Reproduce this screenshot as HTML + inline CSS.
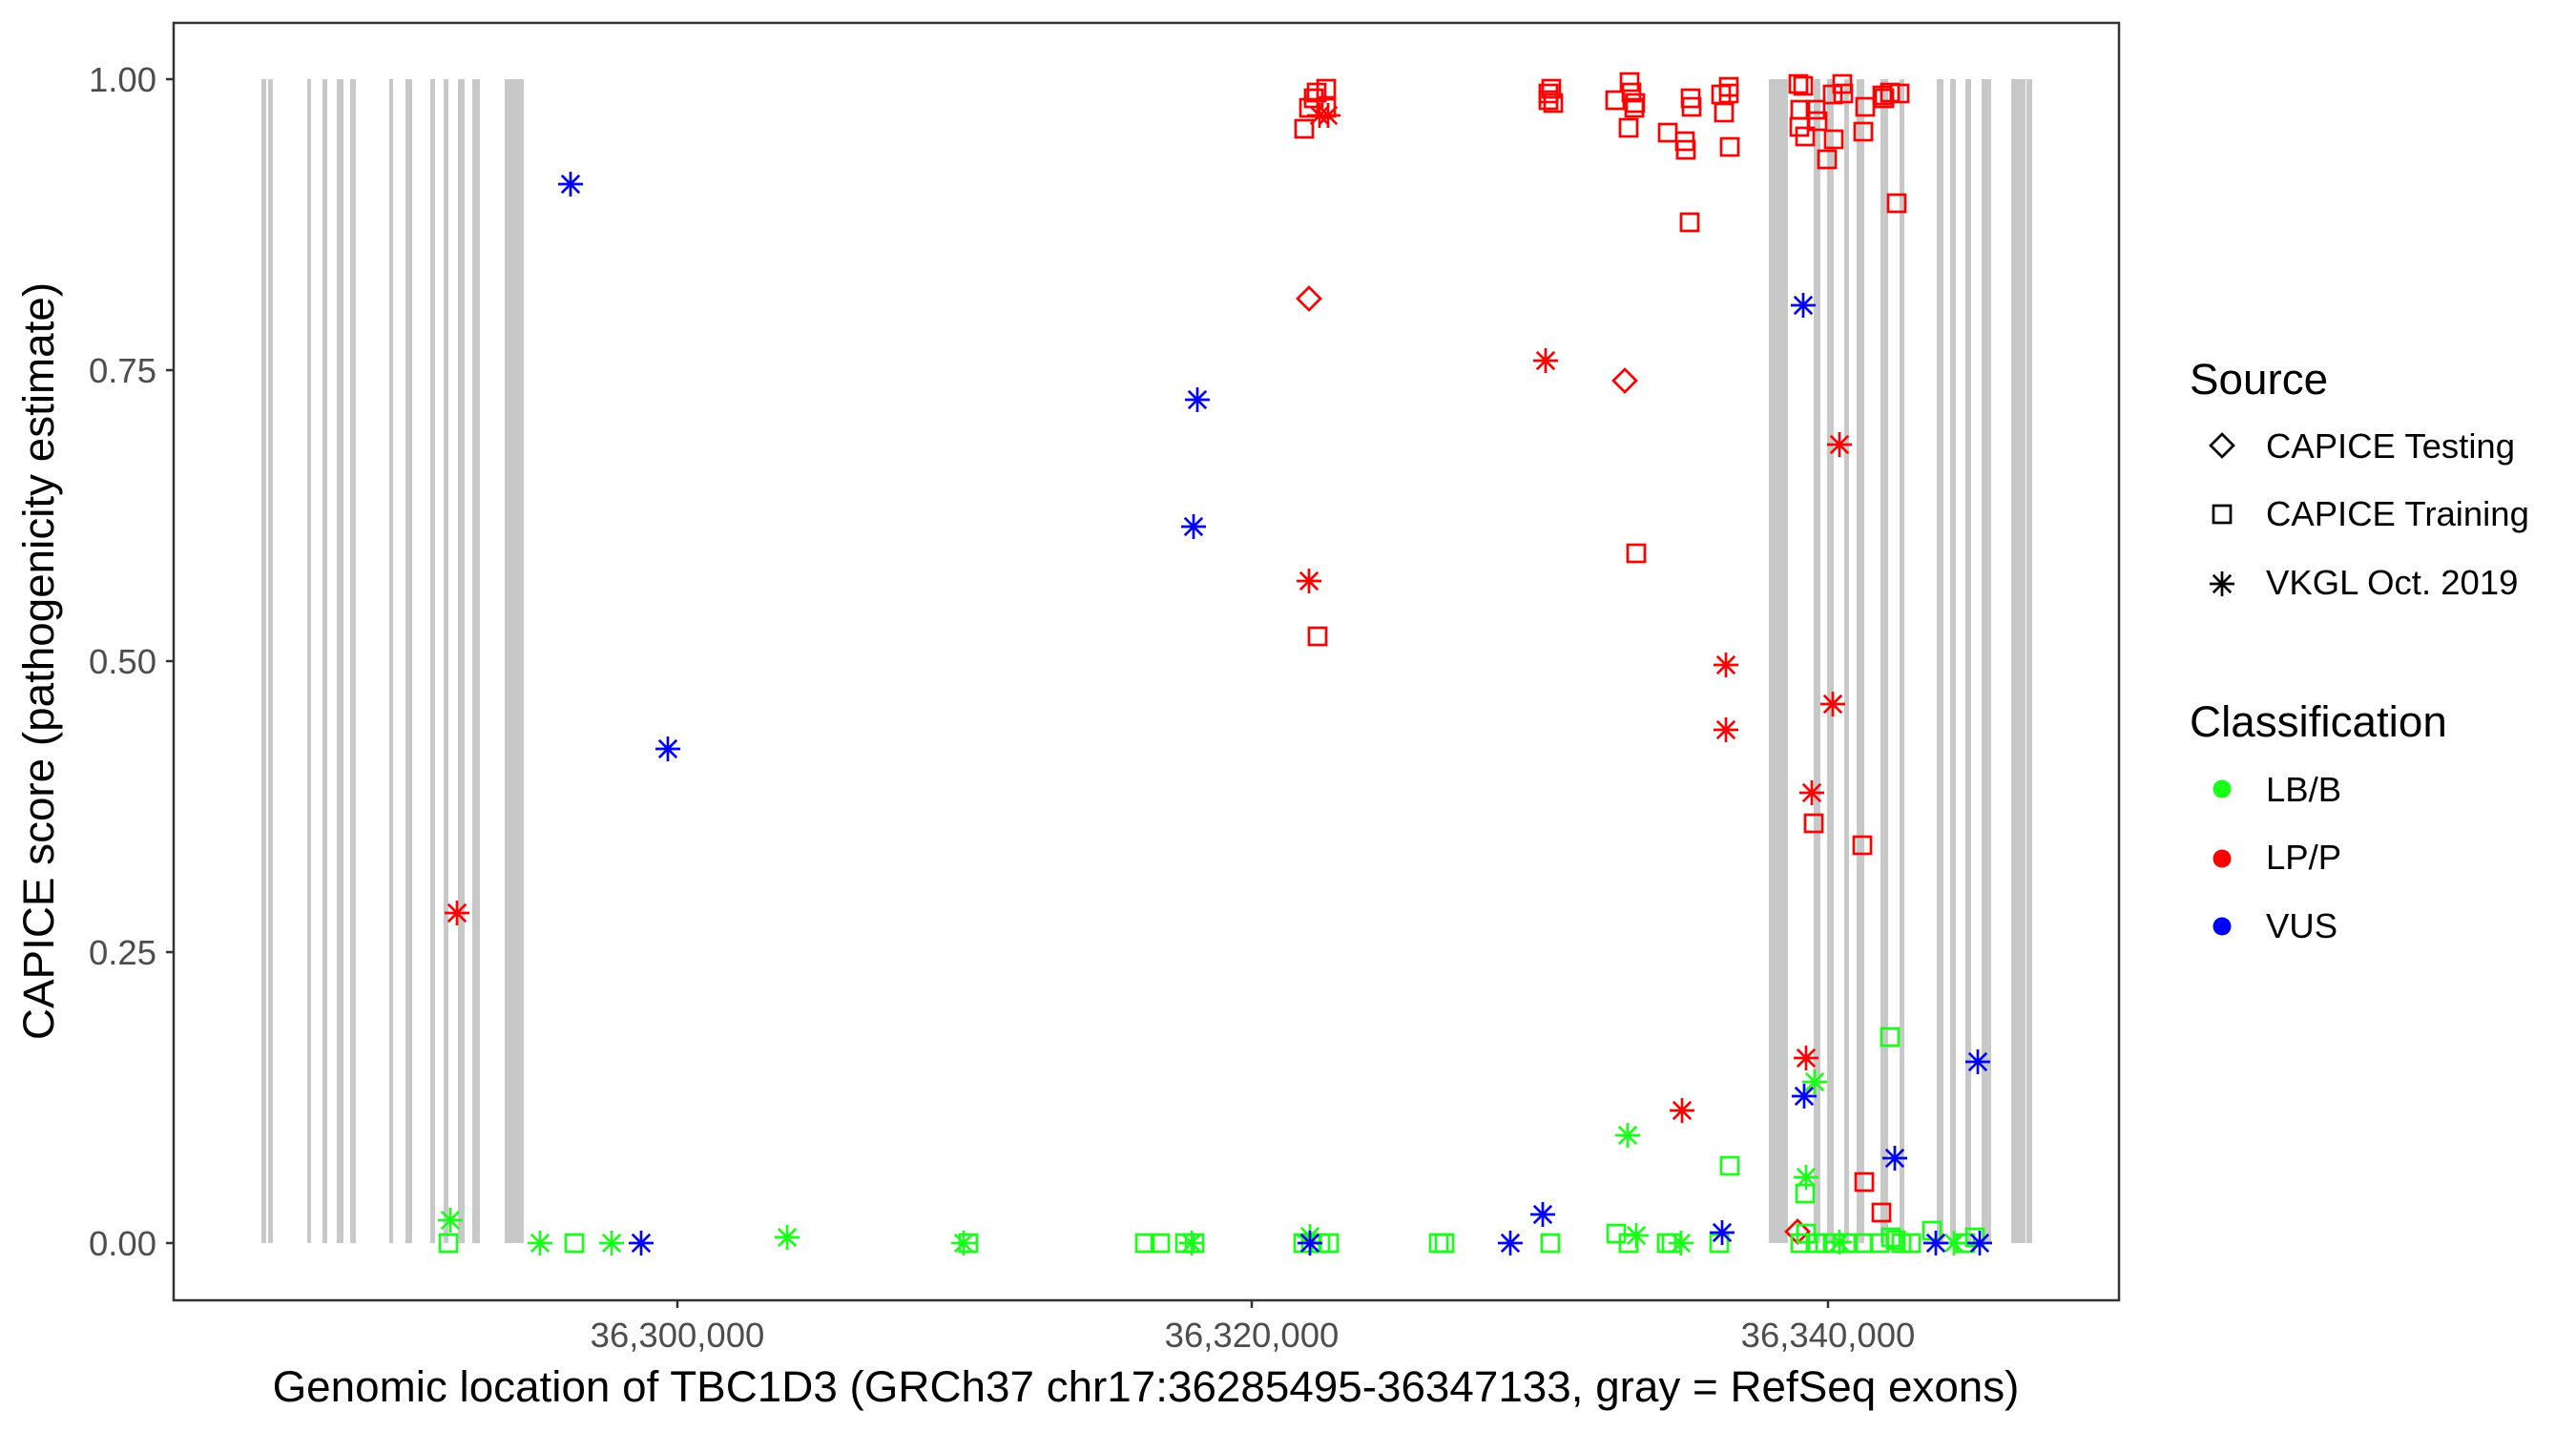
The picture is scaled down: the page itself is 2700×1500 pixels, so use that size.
<!DOCTYPE html>
<html><head><meta charset="utf-8"><style>
html,body{margin:0;padding:0;background:#fff;}
svg{display:block;font-family:"Liberation Sans",Arial,sans-serif;}
</style></head><body>
<svg width="2700" height="1500" viewBox="0 0 2700 1500" xmlns="http://www.w3.org/2000/svg">
<defs>
<rect id="sq" x="-9" y="-9" width="18" height="18" fill="none" stroke-width="2.7"/>
<polygon id="dm" points="0,-12 12,0 0,12 -12,0" fill="none" stroke-width="2.7"/>
<g id="as" stroke-width="2.7" fill="none"><line x1="0" y1="-13" x2="0" y2="13"/><line x1="-13" y1="0" x2="13" y2="0"/><line x1="-9.2" y1="-9.2" x2="9.2" y2="9.2"/><line x1="-9.2" y1="9.2" x2="9.2" y2="-9.2"/></g>
</defs>
<rect width="2700" height="1500" fill="#fff"/>
<!-- exons -->
<g fill="#c8c8c8">
<rect x="274" y="83" width="5" height="1220"/><rect x="281" y="83" width="5" height="1220"/>
<rect x="322" y="83" width="4" height="1220"/><rect x="338" y="83" width="5" height="1220"/>
<rect x="353" y="83" width="7" height="1220"/><rect x="367" y="83" width="6" height="1220"/>
<rect x="408" y="83" width="4" height="1220"/><rect x="425" y="83" width="7" height="1220"/>
<rect x="451" y="83" width="5" height="1220"/><rect x="465" y="83" width="5" height="1220"/>
<rect x="480" y="83" width="7" height="1220"/><rect x="495" y="83" width="8" height="1220"/>
<rect x="529" y="83" width="20" height="1220"/>
<rect x="1854" y="83" width="20" height="1220"/><rect x="1901" y="83" width="7" height="1220"/>
<rect x="1915" y="83" width="7" height="1220"/><rect x="1933" y="83" width="5" height="1220"/>
<rect x="1946" y="83" width="8" height="1220"/><rect x="1971" y="83" width="8" height="1220"/>
<rect x="1991" y="83" width="5" height="1220"/><rect x="2030" y="83" width="7" height="1220"/>
<rect x="2044" y="83" width="6" height="1220"/><rect x="2060" y="83" width="6" height="1220"/>
<rect x="2077" y="83" width="10" height="1220"/><rect x="2108" y="83" width="15" height="1220"/>
<rect x="2124" y="83" width="6" height="1220"/>
</g>
<!-- red squares -->
<g stroke="#ff0000">
<use href="#sq" x="1390" y="93"/><use href="#sq" x="1380" y="97"/><use href="#sq" x="1377" y="103"/><use href="#sq" x="1372" y="113"/><use href="#sq" x="1390" y="113"/><use href="#sq" x="1367" y="135"/><use href="#sq" x="1381" y="667"/>
<use href="#sq" x="1626" y="93"/><use href="#sq" x="1623" y="98"/><use href="#sq" x="1623" y="105"/><use href="#sq" x="1628" y="108"/><use href="#sq" x="1693" y="105"/><use href="#sq" x="1708" y="86"/><use href="#sq" x="1710" y="97"/><use href="#sq" x="1714" y="108"/><use href="#sq" x="1713" y="113"/><use href="#sq" x="1707" y="134"/><use href="#sq" x="1748" y="139"/><use href="#sq" x="1766" y="148"/><use href="#sq" x="1767" y="157"/><use href="#sq" x="1772" y="103"/><use href="#sq" x="1773" y="112"/><use href="#sq" x="1812" y="91"/><use href="#sq" x="1812" y="98"/><use href="#sq" x="1804" y="99"/><use href="#sq" x="1807" y="118"/><use href="#sq" x="1813" y="154"/><use href="#sq" x="1771" y="233"/>
<use href="#sq" x="1885" y="88"/><use href="#sq" x="1890" y="90"/><use href="#sq" x="1887" y="115"/><use href="#sq" x="1886" y="133"/><use href="#sq" x="1892" y="143"/><use href="#sq" x="1903" y="115"/><use href="#sq" x="1905" y="127"/><use href="#sq" x="1921" y="99"/><use href="#sq" x="1931" y="88"/><use href="#sq" x="1932" y="98"/><use href="#sq" x="1955" y="112"/><use href="#sq" x="1953" y="138"/><use href="#sq" x="1922" y="146"/><use href="#sq" x="1915" y="167"/><use href="#sq" x="1973" y="100"/><use href="#sq" x="1975" y="103"/><use href="#sq" x="1981" y="97"/><use href="#sq" x="1991" y="98"/><use href="#sq" x="1988" y="213"/>
<use href="#sq" x="1715" y="580"/><use href="#sq" x="1901" y="863"/><use href="#sq" x="1952" y="886"/><use href="#sq" x="1954" y="1239"/><use href="#sq" x="1972" y="1271"/>
<use href="#dm" x="1372" y="313"/><use href="#dm" x="1703" y="399"/><use href="#dm" x="1884" y="1291"/>
<use href="#as" x="1383" y="121"/><use href="#as" x="1392" y="121"/><use href="#as" x="1372" y="609"/><use href="#as" x="479" y="957"/><use href="#as" x="1620" y="378"/><use href="#as" x="1809" y="697"/><use href="#as" x="1809" y="765"/><use href="#as" x="1763" y="1164"/><use href="#as" x="1921" y="738"/><use href="#as" x="1899" y="831"/><use href="#as" x="1928" y="466"/><use href="#as" x="1893" y="1109"/>
</g>
<!-- green -->
<g stroke="#1aff1a">
<use href="#sq" x="470" y="1303"/><use href="#sq" x="602" y="1303"/><use href="#sq" x="1015" y="1303"/><use href="#sq" x="1200" y="1303"/><use href="#sq" x="1216" y="1303"/><use href="#sq" x="1242" y="1303"/><use href="#sq" x="1252" y="1303"/><use href="#sq" x="1366" y="1303"/><use href="#sq" x="1374" y="1303"/><use href="#sq" x="1384" y="1303"/><use href="#sq" x="1393" y="1303"/><use href="#sq" x="1508" y="1303"/><use href="#sq" x="1514" y="1303"/>
<use href="#sq" x="1981" y="1087"/><use href="#sq" x="1813" y="1222"/><use href="#sq" x="1892" y="1251"/><use href="#sq" x="1625" y="1303"/><use href="#sq" x="1694" y="1293"/><use href="#sq" x="1707" y="1303"/><use href="#sq" x="1747" y="1303"/><use href="#sq" x="1752" y="1303"/><use href="#sq" x="1802" y="1303"/><use href="#sq" x="1887" y="1303"/><use href="#sq" x="1893" y="1293"/><use href="#sq" x="1903" y="1303"/><use href="#sq" x="1913" y="1303"/><use href="#sq" x="1923" y="1303"/><use href="#sq" x="1937" y="1303"/><use href="#sq" x="1953" y="1303"/><use href="#sq" x="1970" y="1303"/><use href="#sq" x="1982" y="1297"/><use href="#sq" x="1987" y="1300"/><use href="#sq" x="1993" y="1303"/><use href="#sq" x="2003" y="1303"/><use href="#sq" x="2025" y="1290"/><use href="#sq" x="2060" y="1303"/><use href="#sq" x="2070" y="1297"/>
<use href="#as" x="472" y="1279"/><use href="#as" x="566" y="1303"/><use href="#as" x="641" y="1303"/><use href="#as" x="825" y="1297"/><use href="#as" x="1010" y="1303"/><use href="#as" x="1249" y="1303"/><use href="#as" x="1373" y="1296"/>
<use href="#as" x="1902" y="1134"/><use href="#as" x="1706" y="1190"/><use href="#as" x="1893" y="1234"/><use href="#as" x="1715" y="1295"/><use href="#as" x="1762" y="1303"/><use href="#as" x="2048" y="1303"/><use href="#as" x="1928" y="1302"/>
</g>
<!-- blue -->
<g stroke="#0000ff">
<use href="#as" x="598" y="193"/><use href="#as" x="700" y="785"/><use href="#as" x="672" y="1303"/><use href="#as" x="1255" y="419"/><use href="#as" x="1251" y="552"/><use href="#as" x="1373" y="1303"/><use href="#as" x="1890" y="320"/>
<use href="#as" x="1891" y="1149"/><use href="#as" x="1617" y="1273"/><use href="#as" x="1583" y="1303"/><use href="#as" x="1805" y="1292"/><use href="#as" x="1986" y="1214"/><use href="#as" x="2029" y="1303"/><use href="#as" x="2073" y="1113"/><use href="#as" x="2075" y="1303"/>
</g>
<!-- panel border -->
<rect x="182" y="24" width="2039" height="1339" fill="none" stroke="#333" stroke-width="2.5"/>
<!-- ticks -->
<g stroke="#333" stroke-width="2.5">
<line x1="174" y1="83" x2="182" y2="83"/><line x1="174" y1="388" x2="182" y2="388"/><line x1="174" y1="693" x2="182" y2="693"/><line x1="174" y1="998" x2="182" y2="998"/><line x1="174" y1="1303" x2="182" y2="1303"/>
<line x1="710" y1="1363" x2="710" y2="1371"/><line x1="1312" y1="1363" x2="1312" y2="1371"/><line x1="1916" y1="1363" x2="1916" y2="1371"/>
</g>
<g fill="#4d4d4d" font-size="36.5" text-anchor="end">
<text x="164" y="96">1.00</text><text x="164" y="401">0.75</text><text x="164" y="706">0.50</text><text x="164" y="1011">0.25</text><text x="164" y="1316">0.00</text>
</g>
<g fill="#4d4d4d" font-size="36.5" text-anchor="middle">
<text x="710" y="1412">36,300,000</text><text x="1312" y="1412">36,320,000</text><text x="1916" y="1412">36,340,000</text>
</g>
<text x="1201" y="1469" font-size="45.8" text-anchor="middle" fill="#000">Genomic location of TBC1D3 (GRCh37 chr17:36285495-36347133, gray = RefSeq exons)</text>
<text transform="translate(56,693) rotate(-90)" font-size="45.8" text-anchor="middle" fill="#000">CAPICE score (pathogenicity estimate)</text>
<!-- legend -->
<text x="2295" y="413" font-size="45.8">Source</text>
<g stroke="#000"><use href="#dm" x="2329" y="467"/><use href="#sq" x="2329" y="539"/><use href="#as" x="2329" y="612"/></g>
<g font-size="36.5"><text x="2375" y="480">CAPICE Testing</text><text x="2375" y="551">CAPICE Training</text><text x="2375" y="623">VKGL Oct. 2019</text></g>
<text x="2295" y="772" font-size="45.8">Classification</text>
<circle cx="2329" cy="827" r="9.5" fill="#1aff1a"/><circle cx="2329" cy="900" r="9.5" fill="#ff0000"/><circle cx="2329" cy="971" r="9.5" fill="#0000ff"/>
<g font-size="36.5"><text x="2375" y="840">LB/B</text><text x="2375" y="911">LP/P</text><text x="2375" y="983">VUS</text></g>
</svg>
</body></html>
